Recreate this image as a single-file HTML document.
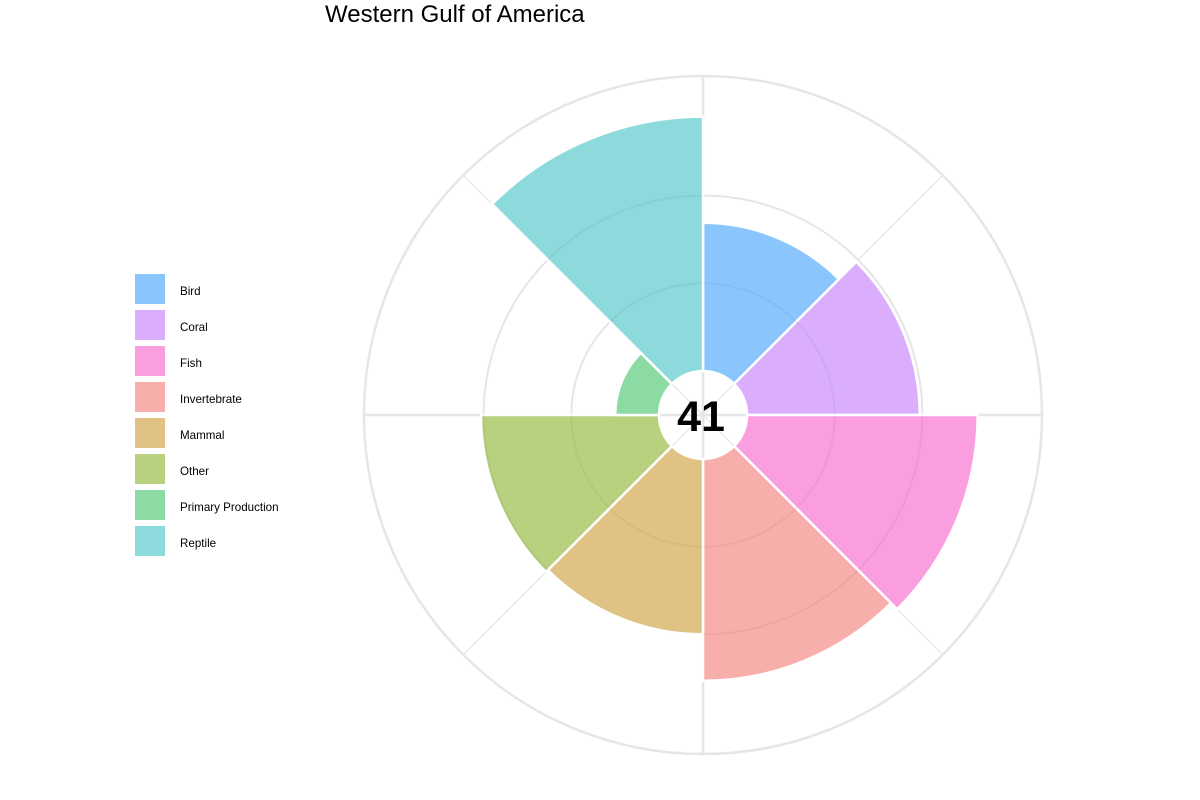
<!DOCTYPE html>
<html><head><meta charset="utf-8"><style>
body{margin:0;background:#fff;}
svg{display:block;font-family:"Liberation Sans",Arial,sans-serif;}
</style></head><body>
<svg id="chart" width="1200" height="800">
<text x="325" y="22" font-size="24" fill="#000">Western Gulf of America</text>
<g id="grid"></g>
<g id="bars"></g>
<g id="legend"></g>
<text x="701" y="431" font-size="43" font-weight="bold" text-anchor="middle" fill="#000">41</text>
</svg>
<script>
const categories=["Bird","Coral","Fish","Invertebrate","Mammal","Other","Primary Production","Reptile"];
const values=[1.69,1.97,2.63,2.53,2.0,2.03,0.5,2.9];
const colors=["#8ac6fd","#dbaefd","#fa9ee0","#f8aeab","#e0c384","#b7d17f","#8cdba4","#8cdadc"];
const gridValues=[1,2];
const cx=703,cy=415,hole=44,unit=87.7,outer=339;
const NS="http://www.w3.org/2000/svg";
function r(v){return hole+v*unit;}
function pt(rad,a){return [cx+rad*Math.sin(a),cy-rad*Math.cos(a)];}
function mk(tag,attrs,parent){const e=document.createElementNS(NS,tag);for(const k in attrs)e.setAttribute(k,attrs[k]);parent.appendChild(e);return e;}
const grid=document.getElementById('grid'),bars=document.getElementById('bars'),leg=document.getElementById('legend');
const n=categories.length,step=2*Math.PI/n;
for(let i=0;i<n;i++){const a=i*step;const p=pt(outer,a);
 const l=mk('line',{x1:cx,y1:cy,x2:p[0],y2:p[1],stroke:'#e6e6e6','stroke-width':(i%2==0)?2.5:1.2},grid);
 
 }
const oc=mk('circle',{cx:cx,cy:cy,r:outer,fill:'none',stroke:'#e6e6e6','stroke-width':2.5},grid);


gridValues.forEach(v=>{
 const g2=mk('circle',{cx:cx,cy:cy,r:r(v),fill:'none',stroke:'#e6e6e6','stroke-width':2},grid);
 
 });
categories.forEach((c,i)=>{
 const a0=i*step,a1=(i+1)*step,R=r(values[i]);
 const p0=pt(hole,a0),p1=pt(R,a0),p2=pt(R,a1),p3=pt(hole,a1);
 const d=`M${p0[0]},${p0[1]}L${p1[0]},${p1[1]}A${R},${R} 0 0 1 ${p2[0]},${p2[1]}L${p3[0]},${p3[1]}A${hole},${hole} 0 0 0 ${p0[0]},${p0[1]}Z`;
 const b=mk('path',{d:d,fill:colors[i],stroke:'#fff','stroke-width':2.5},bars);
 
 
 const k=mk('rect',{x:135,y:274+i*36,width:30,height:30,fill:colors[i]},leg);
 
 
 const t=mk('text',{x:180,y:295+i*36,'font-size':11.6,fill:'#000'},leg);
 t.textContent=c;
 
 
});
categories.forEach((c,i)=>{
 const a0=i*step,a1=(i+1)*step,R=r(values[i]);
 gridValues.forEach(v=>{
  const gr=r(v); if(gr>=R) return;
  const q0=pt(gr,a0),q1=pt(gr,a1);
  const g=mk('path',{d:`M${q0[0]},${q0[1]}A${gr},${gr} 0 0 1 ${q1[0]},${q1[1]}`,fill:'none',stroke:'rgba(0,0,0,0.045)','stroke-width':2},bars);
  
  
 });
});
</script>
</body></html>
